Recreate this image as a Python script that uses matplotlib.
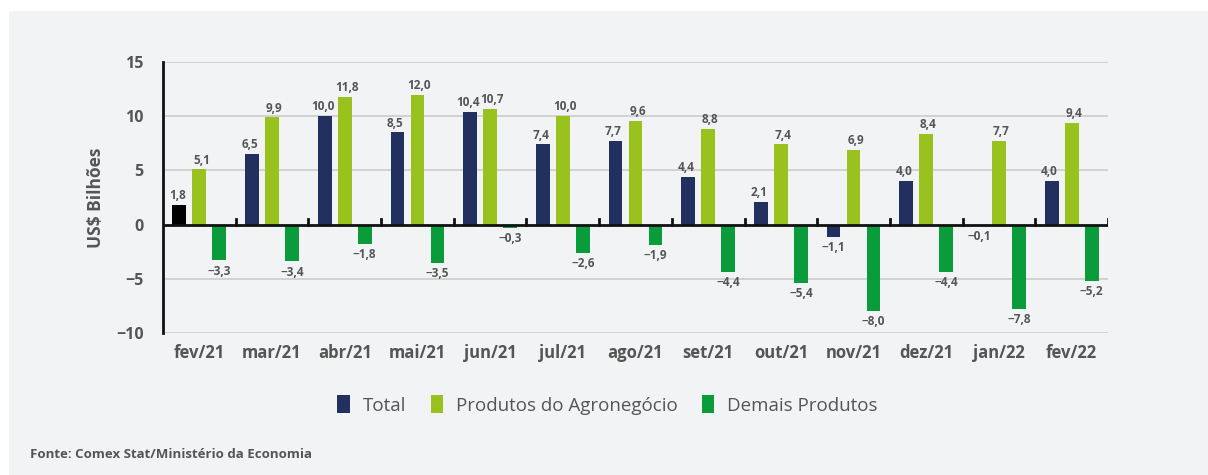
import matplotlib.pyplot as plt
import numpy as np
from matplotlib.patches import Patch, Rectangle

# data
meses = ['fev/21', 'mar/21', 'abr/21', 'mai/21', 'jun/21', 'jul/21', 'ago/21',
         'set/21', 'out/21', 'nov/21', 'dez/21', 'jan/22', 'fev/22']
total = [1.8, 6.5, 10.0, 8.5, 10.4, 7.4, 7.7, 4.4, 2.1, -1.1, 4.0, -0.1, 4.0]
agro = [5.1, 9.9, 11.8, 12.0, 10.7, 10.0, 9.6, 8.8, 7.4, 6.9, 8.4, 7.7, 9.4]
demais = [-3.3, -3.4, -1.8, -3.5, -0.3, -2.6, -1.9, -4.4, -5.4, -8.0, -4.4, -7.8, -5.2]
series_names = ['Total', 'Produtos do Agronegócio', 'Demais Produtos']
fonte = 'Fonte: Comex Stat/Ministério da Economia'

c_total = '#22305f'
c_agro = '#9ac21e'
c_demais = '#0a9c3b'
c_text = '#555555'
bg = '#f2f3f5'

plt.rcParams['font.family'] = ['Open Sans', 'DejaVu Sans']

fig = plt.figure(figsize=(12.08, 4.75), dpi=100, facecolor='white')
fig.patches.append(Rectangle((9 / 1208, 0), 1, 1 - 11 / 475, transform=fig.transFigure,
                             facecolor=bg, edgecolor='none', zorder=-10))

ax = fig.add_axes([163 / 1208, 1 - 333 / 475, 945 / 1208, 271 / 475])
ax.patch.set_alpha(0)

x = np.arange(len(meses))
w = 0.19
off = 0.275

cols_total = [c_total] * len(total)
cols_total[0] = '#000000'  # first month highlighted
b1 = ax.bar(x - off, total, w, color=cols_total, zorder=3)
b2 = ax.bar(x, agro, w, color=c_agro, zorder=3)
b3 = ax.bar(x + off, demais, w, color=c_demais, zorder=3)


def fmt(v):
    s = f'{abs(v):.1f}'.replace('.', ',')
    return ('\u2212' + s) if v < 0 else s


# small horizontal nudges keep neighbouring labels (e.g. jun/21) apart
for bars, vals, dx in [(b1, total, -1.5), (b2, agro, 1.5), (b3, demais, 0)]:
    for bar, v in zip(bars, vals):
        xc = bar.get_x() + bar.get_width() / 2
        if v >= 0:
            ax.annotate(fmt(v), (xc, v), xytext=(dx, 2), textcoords='offset points',
                        ha='center', va='bottom', fontsize=8.5, fontweight='bold', color=c_text)
        else:
            ax.annotate(fmt(v), (xc, v), xytext=(0, -3), textcoords='offset points',
                        ha='center', va='top', fontsize=8.5, fontweight='bold', color=c_text)

ax.set_xlim(-0.5, len(meses) - 0.5)
ax.set_ylim(-10, 15)
ax.set_yticks([-10, -5, 0, 5, 10, 15])
ax.set_yticklabels(['\u221210', '\u22125', '0', '5', '10', '15'])
for yv in [-10, -5, 5, 10, 15]:
    ax.axhline(yv, color='#cccccc', linewidth=1.2, zorder=1)

# zero line with small upward ticks between groups
ax.axhline(0, color='#111111', linewidth=2, zorder=4)
for k in range(1, len(meses) + 1):
    ax.plot([k - 0.5, k - 0.5], [0, 0.55], color='#111111', linewidth=2, zorder=4)

for s in ['top', 'right', 'bottom']:
    ax.spines[s].set_visible(False)
ax.spines['left'].set_color('#111111')
ax.spines['left'].set_linewidth(2)

ax.set_xticks(x)
ax.set_xticklabels(meses)
ax.tick_params(axis='x', length=0, pad=8, labelsize=12, labelcolor=c_text)
ax.tick_params(axis='y', length=0, pad=14, labelsize=11.5, labelcolor=c_text)
for lab in ax.get_xticklabels() + ax.get_yticklabels():
    lab.set_fontweight('bold')

ax.set_ylabel('US$ Bilhões', fontsize=12.5, fontweight='bold', color=c_text, labelpad=8)

handles = [Patch(facecolor=c, edgecolor='none') for c in [c_total, c_agro, c_demais]]
fig.legend(handles, series_names, loc='center', bbox_to_anchor=(0.503, 1 - 405 / 475),
           ncol=3, frameon=False, fontsize=13.5, labelcolor=c_text,
           handletextpad=0.7, columnspacing=1.3, handlelength=0.65, handleheight=1.1)

fig.text(30 / 1208, 1 - 454 / 475, fonte, fontsize=9.5, fontweight='bold',
         color=c_text, ha='left', va='center')

fig.savefig('out.png', dpi=100, facecolor='white')
